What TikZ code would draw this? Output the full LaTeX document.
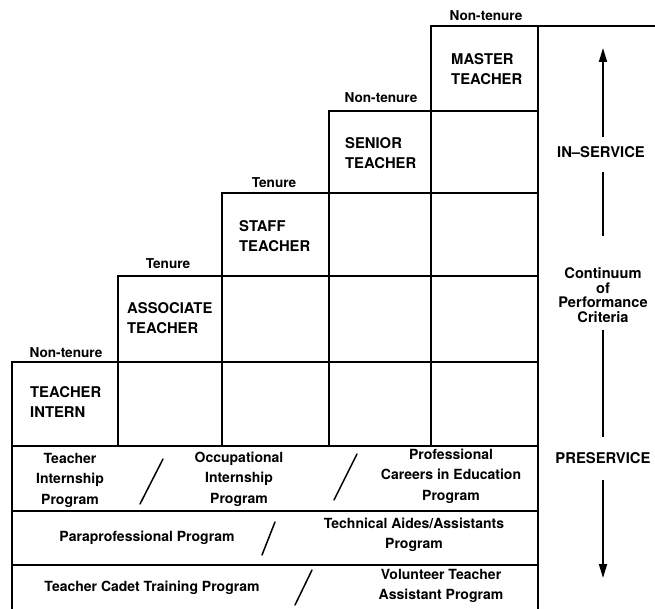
\documentclass[tikz,border=0pt]{standalone}
\usepackage{fontspec}
\setmainfont{TeX Gyre Heros}
\usetikzlibrary{arrows.meta}
\begin{document}
\begin{tikzpicture}[x=1pt,y=-1pt,
  grid/.style={line width=1.8pt, line cap=rect},
  rank/.style={font=\bfseries\fontsize{14.8}{19.5}\selectfont, align=left, anchor=west, inner sep=0pt},
  status/.style={font=\bfseries\fontsize{13.6}{15}\selectfont, inner sep=0pt},
  prog/.style={font=\bfseries\fontsize{14}{20.5}\selectfont, align=center, inner sep=0pt},
  phase/.style={font=\bfseries\fontsize{14.8}{16}\selectfont, inner sep=0pt},
  crit/.style={font=\bfseries\fontsize{14.6}{14.7}\selectfont, align=center, inner sep=0pt},
  axis/.style={line width=1.8pt},
  tip/.style={-{Triangle[length=14pt,width=8pt]}},
  slash/.style={line width=1.5pt, line cap=round}
]
\useasboundingbox (0,0) rectangle (655,609);

% horizontal rules of the staircase and the program rows
\draw[grid] (431,26) -- (655,26);
\draw[grid] (329,111) -- (538,111);
\draw[grid] (222,193) -- (538,193);
\draw[grid] (118,276) -- (538,276);
\draw[grid] (12,362) -- (538,362);
\draw[grid] (12,446) -- (538,446);
\draw[grid] (12,511) -- (538,511);
\draw[grid] (12,565) -- (538,565);

% vertical rules
\draw[grid] (12,362) -- (12,609);
\draw[grid] (118,276) -- (118,446);
\draw[grid] (222,193) -- (222,446);
\draw[grid] (329,111) -- (329,446);
\draw[grid] (431,26) -- (431,446);
\draw[grid] (538,26) -- (538,609);

% career ranks
\node[rank] (intern) at (30,402) {TEACHER\\INTERN};
\node[rank] (assoc)  at (127,318) {ASSOCIATE\\TEACHER};
\node[rank] (staff)  at (239,236) {STAFF\\TEACHER};
\node[rank] (senior) at (345,153) {SENIOR\\TEACHER};
\node[rank] (master) at (451,69) {MASTER\\TEACHER};

% tenure status above each step
\node[status] (st1) at (66,353) {Non-tenure};
\node[status] (st2) at (168,264) {Tenure};
\node[status] (st3) at (274,183) {Tenure};
\node[status] (st4) at (381,98) {Non-tenure};
\node[status] (st5) at (486,16) {Non-tenure};

% preservice programs
\node[prog] (p1) at (70,480) {Teacher\\Internship\\Program};
\node[prog] (p2) at (239,479) {Occupational\\Internship\\Program};
\node[prog] (p3) at (451,476) {Professional\\Careers in Education\\Program};
\node[prog] (p4) at (147,538) {Paraprofessional Program};
\node[prog] (p5) at (414,535) {Technical Aides/Assistants\\Program};
\node[prog] (p6) at (152,588) {Teacher Cadet Training Program};
\node[prog] (p7) at (441,586) {Volunteer Teacher\\Assistant Program};

% separators between alternative programs
\draw[slash] (163,459) -- (140,504);
\draw[slash] (357,454) -- (334,500);
\draw[slash] (275,522) -- (262,555);
\draw[slash] (312,570) -- (295,605);

% continuum axis
\node[phase] (insvc)  at (601,152) {IN--SERVICE};
\node[crit]  (cont)   at (603,295) {Continuum\\of\\Performance\\Criteria};
\node[phase] (presvc) at (603,458) {PRESERVICE};

\coordinate (uptip) at (603,48);
\coordinate (downtip) at (603,578);
\draw[axis,tip] (603,137) -- (uptip);
\draw[axis] (603,172) -- (603,236);
\draw[axis] (603,330) -- (603,437);
\draw[axis,tip] (603,480) -- (downtip);
\end{tikzpicture}
\end{document}
